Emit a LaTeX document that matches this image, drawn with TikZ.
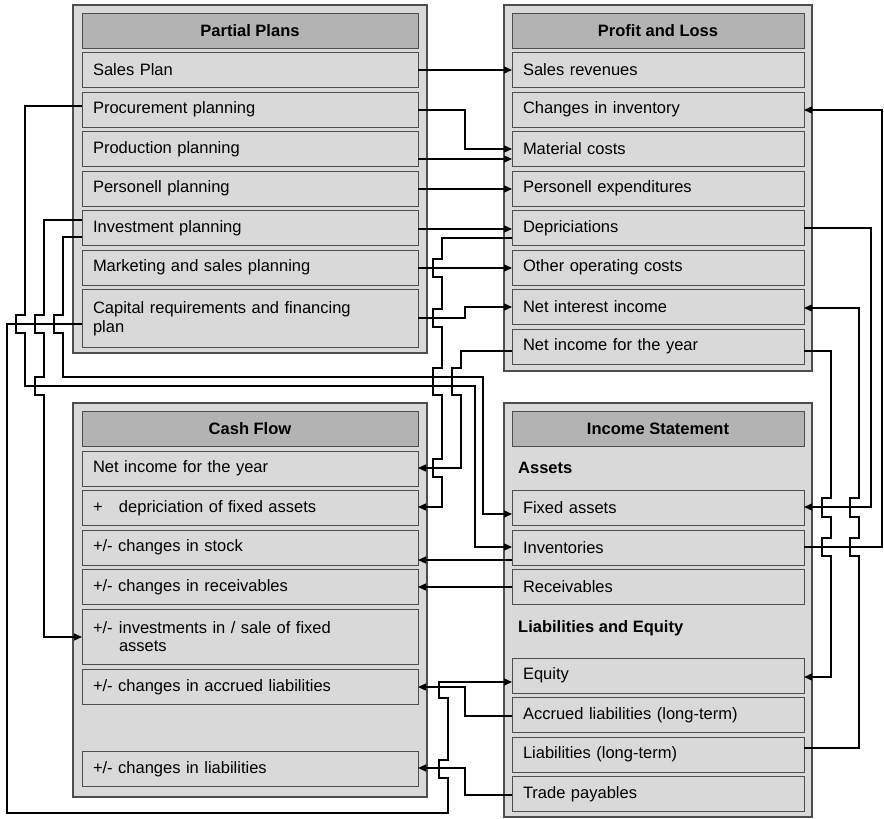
\documentclass[tikz,border=0pt]{standalone}
\usepackage{fontspec}
\setmainfont{Liberation Sans}
\usetikzlibrary{arrows.meta}
\definecolor{panelgray}{HTML}{D9D9D9}
\definecolor{headgray}{HTML}{B3B3B3}
\definecolor{edgegray}{HTML}{4D4D4D}
\tikzset{
  panel/.style={draw=edgegray, fill=panelgray, line width=1.2pt},
  rowbox/.style={draw=edgegray, fill=panelgray, line width=1pt, anchor=north west,
    outer sep=0pt, inner xsep=11pt, inner ysep=0pt, align=left,
    font=\fontsize{16.5}{18.5}\selectfont},
  leftrow/.style={rowbox, text width=314pt, minimum height=35pt},
  rightrow/.style={rowbox, text width=270pt, minimum height=35pt},
  headbox/.style={draw=edgegray, fill=headgray, line width=1pt, anchor=north west,
    outer sep=0pt, inner sep=0pt, minimum height=35pt,
    font=\bfseries\fontsize{16.5}{18.5}\selectfont},
  sublabel/.style={anchor=west, inner sep=0pt, font=\bfseries\fontsize{16.5}{18.5}\selectfont},
  conn/.style={draw=black, line width=1.3pt},
  arr/.style={conn, -{Triangle[length=8pt,width=7pt]}},
}
\begin{document}
\begin{tikzpicture}[x=1pt,y=-1pt]
\useasboundingbox (0,0) rectangle (884,819);

% ---------- Partial Plans ----------
\draw[panel] (73,5) rectangle (427,353);
\node[headbox, minimum width=336pt] (pphead) at (82,13) {Partial Plans};
\node[leftrow] (ppsales)  at (82,52.5)  {Sales Plan};
\node[leftrow] (ppproc)   at (82,92)    {Procurement planning};
\node[leftrow] (ppprod)   at (82,131.5) {Production planning};
\node[leftrow] (pppers)   at (82,171)   {Personell planning};
\node[leftrow] (ppinvest) at (82,210.5) {Investment planning};
\node[leftrow] (ppmkt)    at (82,250)   {Marketing and sales planning};
\node[leftrow, minimum height=58pt] (ppcap) at (82,289.5)
  {Capital requirements and financing\\plan};

% ---------- Profit and Loss ----------
\draw[panel] (504,5) rectangle (812,371);
\node[headbox, minimum width=292pt] (plhead) at (512,13) {Profit and Loss};
\node[rightrow] (plsales) at (512,52.5)  {Sales revenues};
\node[rightrow] (plinv)   at (512,92)    {Changes in inventory};
\node[rightrow] (plmat)   at (512,131.5) {Material costs};
\node[rightrow] (plpers)  at (512,171)   {Personell expenditures};
\node[rightrow] (pldep)   at (512,210.5) {Depriciations};
\node[rightrow] (plother) at (512,250)   {Other operating costs};
\node[rightrow] (plint)   at (512,289.5) {Net interest income};
\node[rightrow] (plnet)   at (512,329)   {Net income for the year};

% ---------- Cash Flow ----------
\draw[panel] (73,403) rectangle (427,797);
\node[headbox, minimum width=336pt] (cfhead) at (82,411) {Cash Flow};
\node[leftrow] (cfnet)   at (82,451)   {Net income for the year};
\node[leftrow] (cfdep)   at (82,490.5) {\makebox[26pt][l]{+}depriciation of fixed assets};
\node[leftrow] (cfstock) at (82,530)   {+/- changes in stock};
\node[leftrow] (cfrec)   at (82,569.5) {+/- changes in receivables};
\node[leftrow, minimum height=55pt] (cfinv) at (82,609)
  {\makebox[26pt][l]{+/-}investments in / sale of fixed\\\hspace*{26pt}assets};
\node[leftrow] (cfacc)   at (82,669.5) {+/- changes in accrued liabilities};
\node[leftrow] (cfliab)  at (82,751.5) {+/- changes in liabilities};

% ---------- Income Statement ----------
\draw[panel] (504,403) rectangle (812,817);
\node[headbox, minimum width=292pt] (ishead) at (512,411) {Income Statement};
\node[sublabel] (assets) at (518,468) {Assets};
\node[rightrow] (isfix)   at (512,490.5) {Fixed assets};
\node[rightrow] (isinv)   at (512,530)   {Inventories};
\node[rightrow] (isrec)   at (512,569.5) {Receivables};
\node[sublabel] (liabeq) at (518,628) {Liabilities and Equity};
\node[rightrow] (iseq)    at (512,658)   {Equity};
\node[rightrow] (isacc)   at (512,697.5) {Accrued liabilities (long-term)};
\node[rightrow] (isliab)  at (512,737)   {Liabilities (long-term)};
\node[rightrow] (istrade) at (512,776.5) {Trade payables};

% ---------- partial plans -> profit and loss ----------
\draw[arr] (ppsales.east |- 0,70) -- (plsales.west |- 0,70);
\draw[arr] (ppproc.east |- 0,110) -- (465,110) -- (465,149) -- (plmat.west |- 0,149);
\draw[arr] (ppprod.east |- 0,159) -- (plmat.west |- 0,159);
\draw[arr] (pppers.east |- 0,189) -- (plpers.west |- 0,189);
\draw[arr] (ppinvest.east |- 0,229) -- (pldep.west |- 0,229);
\draw[arr] (ppmkt.east |- 0,268) -- (plother.west |- 0,268);
\draw[arr] (ppcap.east |- 0,318) -- (465,318) -- (465,307) -- (plint.west |- 0,307);

% ---------- profit and loss -> cash flow ----------
\draw[arr] (pldep.west |- 0,238) -- (442,238)
  -- (442,259) -- (433,259) -- (433,277) -- (442,277)
  -- (442,309) -- (433,309) -- (433,327) -- (442,327)
  -- (442,368) -- (433,368) -- (433,395) -- (442,395)
  -- (442,459) -- (433,459) -- (433,477) -- (442,477)
  -- (442,507) -- (cfdep.east |- 0,507);
\draw[arr] (plnet.west |- 0,351) -- (461,351)
  -- (461,368) -- (452,368) -- (452,395) -- (461,395)
  -- (461,468) -- (cfnet.east |- 0,468);

% ---------- partial plans -> income statement / cash flow ----------
\draw[arr] (ppproc.west |- 0,106) -- (25,106)
  -- (25,315) -- (16,315) -- (16,333) -- (25,333)
  -- (25,386) -- (475,386) -- (475,547) -- (isinv.west |- 0,547);
\draw[arr] (ppinvest.west |- 0,237) -- (63,237)
  -- (63,315) -- (54,315) -- (54,333) -- (63,333)
  -- (63,377) -- (483,377) -- (483,514) -- (isfix.west |- 0,514);
\draw[arr] (ppinvest.west |- 0,220) -- (44,220)
  -- (44,315) -- (35,315) -- (35,333) -- (44,333)
  -- (44,377) -- (35,377) -- (35,395) -- (44,395)
  -- (44,637) -- (cfinv.west |- 0,637);
\draw[arr] (ppcap.west |- 0,324) -- (7,324) -- (7,813) -- (448,813)
  -- (448,778) -- (439,778) -- (439,760) -- (448,760)
  -- (448,698) -- (439,698) -- (439,682) -- (iseq.west |- 0,682);

% ---------- income statement -> cash flow ----------
\draw[arr] (isinv.west |- 0,560) -- (cfstock.east |- 0,560);
\draw[arr] (isrec.west |- 0,587) -- (cfrec.east |- 0,587);
\draw[arr] (isacc.west |- 0,716) -- (465,716) -- (465,687) -- (cfacc.east |- 0,687);
\draw[arr] (istrade.west |- 0,795) -- (465,795) -- (465,768) -- (cfliab.east |- 0,768);

% ---------- right-hand links ----------
\draw[arr] (isinv.east |- 0,547) -- (882,547) -- (882,110) -- (plinv.east |- 0,110);
\draw[arr] (pldep.east |- 0,228) -- (871,228) -- (871,507) -- (isfix.east |- 0,507);
\draw[arr] (plnet.east |- 0,351) -- (831,351)
  -- (831,498) -- (822,498) -- (822,517) -- (831,517)
  -- (831,538) -- (822,538) -- (822,556) -- (831,556)
  -- (831,677) -- (iseq.east |- 0,677);
\draw[arr] (isliab.east |- 0,748) -- (859,748)
  -- (859,556) -- (850,556) -- (850,538) -- (859,538)
  -- (859,517) -- (850,517) -- (850,498) -- (859,498)
  -- (859,308) -- (plint.east |- 0,308);
\end{tikzpicture}
\end{document}
